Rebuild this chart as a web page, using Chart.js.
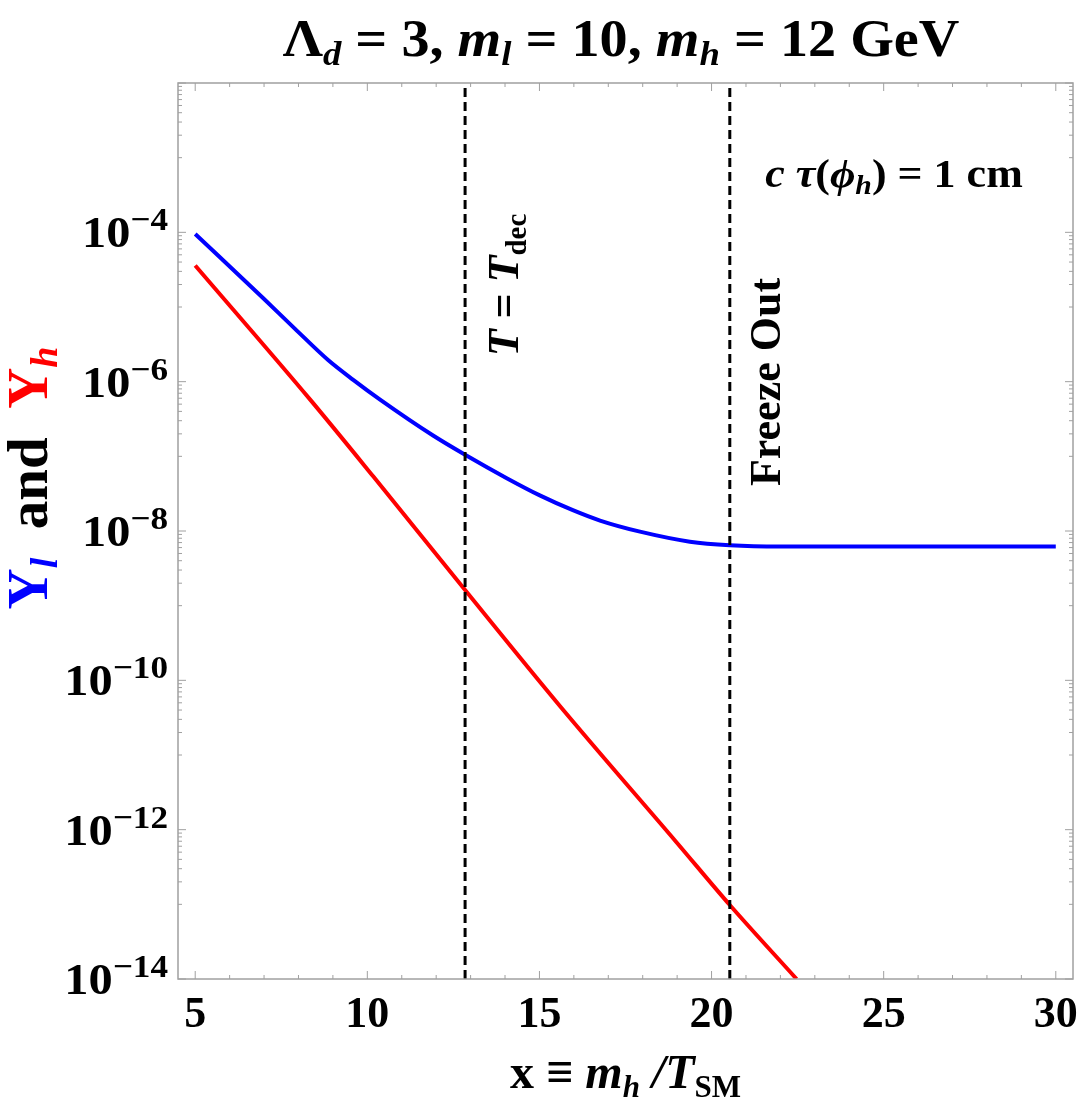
<!DOCTYPE html>
<html>
<head>
<meta charset="utf-8">
<script src="https://cdn.jsdelivr.net/npm/chart.js@4.4.0/dist/chart.umd.min.js"></script>
<style>
  body { margin: 0; background: #fff; }
  #wrap { width: 1084px; height: 1103px; }
</style>
</head>
<body>
<div id="wrap"><canvas id="yieldChart"></canvas></div>
<script>
// x = m_h / T_SM, yields
const xLight = [5, 6.97, 7.9, 8.86, 9.6, 10.37, 11.91, 12.84, 14.05, 15.01, 15.97, 16.76, 17.92, 19.37, 20.53, 22, 25, 30];
const yLight = [9.5e-5, 1.32e-5, 5.1e-6, 1.95e-6, 1.05e-6, 5.75e-7, 1.9e-7, 1.05e-7, 5.1e-8, 3.0e-8, 1.9e-8, 1.38e-8, 9.8e-9, 7.2e-9, 6.45e-9, 6.2e-9, 6.2e-9, 6.2e-9];
const xHeavy = [5, 8.34, 10.17, 12.84, 15.6, 18.98, 20.53, 22.47];
const yHeavy = [3.6e-5, 5.75e-7, 5.4e-8, 1.62e-9, 4.5e-11, 6.8e-13, 9.8e-14, 1e-14];
const xDec = 12.84;      // T = T_dec
const xFreeze = 20.53;   // freeze out
const xTicks = [5, 10, 15, 20, 25, 30];
const yTickExps = [-4, -6, -8, -10, -12, -14];

const SERIF = '"Liberation Serif", "DejaVu Serif", serif';
const B = s => `bold ${s}px ${SERIF}`;
const BI = s => `italic bold ${s}px ${SERIF}`;

function pts(xs, ys) {
    return xs.map((v, i) => ({x: v, y: ys[i]}));
}

// draw a row of text pieces [text, font, color, dy] starting/centred at x
function runs(ctx, parts, x, y, align, sx) {
    sx = sx || 1;
    let w = 0;
    parts.forEach(p => { ctx.font = p[1]; w += ctx.measureText(p[0]).width * sx; });
    let cx = align === 'center' ? x - w / 2 : align === 'right' ? x - w : x;
    ctx.textAlign = 'left';
    ctx.textBaseline = 'alphabetic';
    parts.forEach(p => {
        ctx.font = p[1];
        ctx.fillStyle = p[2] || '#000';
        ctx.save();
        ctx.translate(cx, y + (p[3] || 0));
        ctx.scale(sx, 1);
        ctx.fillText(p[0], 0, 0);
        ctx.restore();
        cx += ctx.measureText(p[0]).width * sx;
    });
}

const frame = {
    id: 'frame',
    afterDatasetsDraw(chart) {
        const {ctx, chartArea: a, scales: {x, y}} = chart;
        ctx.save();
        ctx.strokeStyle = '#a0a0a0';
        ctx.lineWidth = 1.5;
        ctx.strokeRect(a.left, a.top, a.right - a.left, a.bottom - a.top);
        ctx.lineWidth = 1;
        const seg = (x1, y1, x2, y2) => { ctx.beginPath(); ctx.moveTo(x1, y1); ctx.lineTo(x2, y2); ctx.stroke(); };
        for (let v = 5; v <= 30; v++) {
            const px = x.getPixelForValue(v);
            const len = v % 5 === 0 ? 8 : 4;
            seg(px, a.bottom, px, a.bottom - len);
            seg(px, a.top, px, a.top + len);
        }
        for (let e = -14; e <= -2; e++) {
            const js = e % 2 === 0 ? [1] : [1, 2, 3, 4, 5, 6, 7, 8, 9];
            js.forEach(j => {
                const py = y.getPixelForValue(j * Math.pow(10, e));
                const len = e % 2 === 0 ? 8 : 4;
                seg(a.left, py, a.left + len, py);
                seg(a.right, py, a.right - len, py);
            });
        }

        // tick labels
        xTicks.forEach(v => {
            runs(ctx, [[String(v), B(44)]], x.getPixelForValue(v), 1027, 'center');
        });
        yTickExps.forEach(e => {
            const py = y.getPixelForValue(Math.pow(10, e));
            runs(ctx, [['10', B(44)], ['\u2212' + Math.abs(e), B(32), '#000', -17]], a.left - 10, py + 15, 'right', 1.1);
        });

        // axis titles
        runs(ctx, [['x \u2261 ', B(48)], ['m', BI(48)], ['h', BI(31), '#000', 9], [' /', BI(48)], ['T', BI(48)], ['SM', B(31), '#000', 9]],
            (a.left + a.right) / 2, 1088, 'center');
        ctx.save();
        ctx.translate(47, 478);
        ctx.rotate(-Math.PI / 2);
        runs(ctx, [['Y', B(57), '#0000ff'], ['l', BI(38), '#0000ff', 10], ['  and  ', B(57), '#000'],
            ['Y', B(57), '#ff0000'], ['h', BI(38), '#ff0000', 10]], 0, 0, 'center');
        ctx.restore();

        // title
        runs(ctx, [['\u039b', B(52)], ['d', BI(34), '#000', 9], [' = 3, ', B(52)], ['m', BI(52)], ['l', BI(34), '#000', 9],
            [' = 10, ', B(52)], ['m', BI(52)], ['h', BI(34), '#000', 9], [' = 12 GeV', B(52)]], 621, 56, 'center', 1.08);

        // annotations
        runs(ctx, [['c ', BI(40)], ['\u03c4', BI(40)], ['(', B(40)], ['\u03d5', BI(40)], ['h', BI(27), '#000', 7], [')', B(40)],
            [' = 1 cm', B(40)]], 894, 187, 'center', 1.1);
        ctx.save();
        ctx.translate(x.getPixelForValue(xDec) + 53, 285);
        ctx.rotate(-Math.PI / 2);
        runs(ctx, [['T', BI(44)], [' = ', B(44)], ['T', BI(44)], ['dec', B(29), '#000', 8]], 0, 0, 'center');
        ctx.restore();
        ctx.save();
        ctx.translate(x.getPixelForValue(xFreeze) + 50, 382);
        ctx.rotate(-Math.PI / 2);
        runs(ctx, [['Freeze Out', B(44)]], 0, 0, 'center');
        ctx.restore();
        ctx.restore();
    }
};

const vline = v => [{x: v, y: 1e-14}, {x: v, y: 1e-2}];

new Chart(document.getElementById('yieldChart'), {
    type: 'line',
    data: {
        datasets: [
            {data: vline(xDec), borderColor: '#000', borderWidth: 3, borderDash: [9, 5], pointRadius: 0},
            {data: vline(xFreeze), borderColor: '#000', borderWidth: 3, borderDash: [9, 5], pointRadius: 0},
            {label: 'Y_l', data: pts(xLight, yLight), borderColor: '#0000ff', borderWidth: 4, pointRadius: 0,
                cubicInterpolationMode: 'monotone'},
            {label: 'Y_h', data: pts(xHeavy, yHeavy), borderColor: '#ff0000', borderWidth: 4, pointRadius: 0,
                cubicInterpolationMode: 'monotone'}
        ]
    },
    options: {
        responsive: true,
        maintainAspectRatio: false,
        animation: false,
        layout: {padding: {left: 0, right: 11, top: 83, bottom: 0}},
        plugins: {legend: {display: false}, tooltip: {enabled: false}},
        scales: {
            x: {
                type: 'linear', min: 4.5, max: 30.5,
                grid: {display: false}, border: {display: false},
                ticks: {display: false},
                afterFit: s => { s.height = 124; }
            },
            y: {
                type: 'logarithmic', min: 1e-14, max: 1e-2,
                grid: {display: false}, border: {display: false},
                ticks: {display: false},
                afterFit: s => { s.width = 178; }
            }
        }
    },
    plugins: [frame]
});
</script>
</body>
</html>
